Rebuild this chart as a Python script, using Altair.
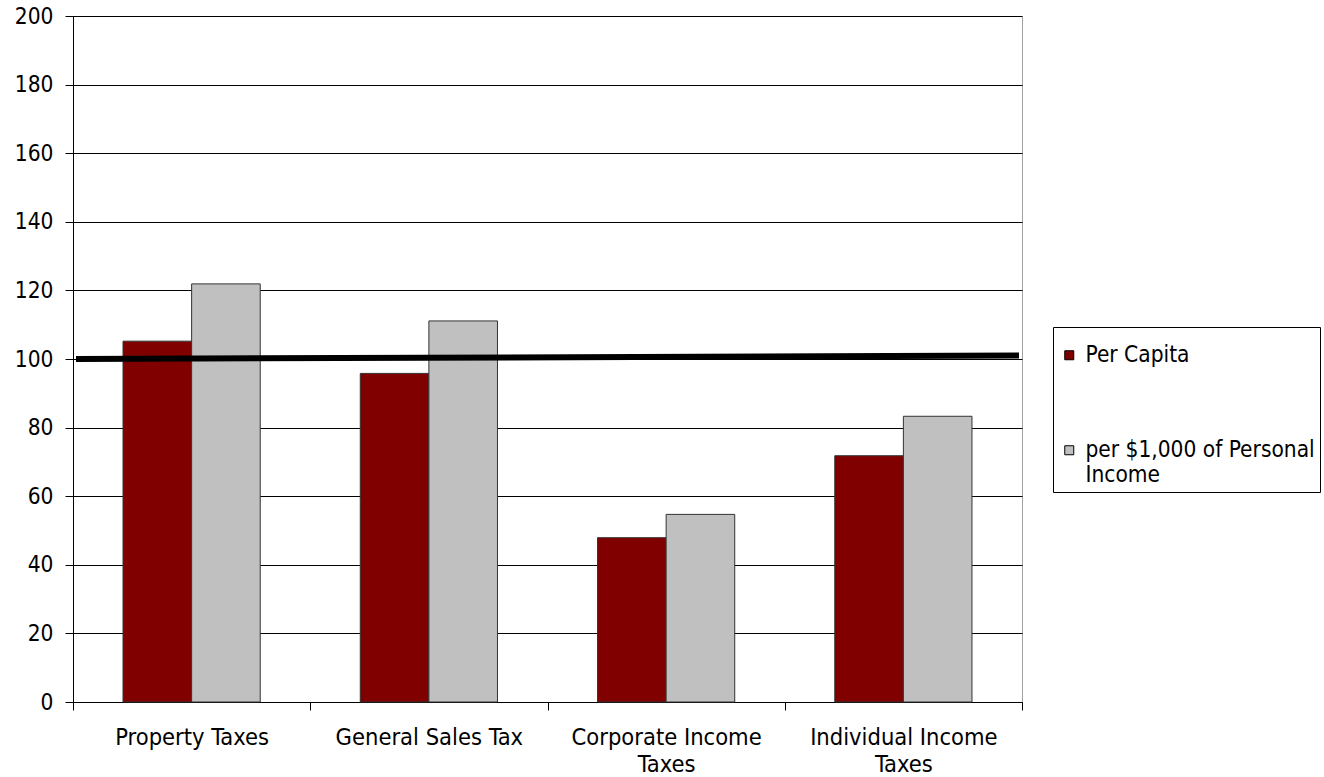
import altair as alt
import pandas as pd

categories = ["Property Taxes", "General Sales Tax", "Corporate Income Taxes", "Individual Income Taxes"]
series = ["Per Capita", "per $1,000 of Personal Income"]
per_capita = [105.2, 95.8, 47.9, 71.8]
per_income = [121.9, 111.1, 54.7, 83.3]
colors = ["#800000", "#C0C0C0"]
y_ticks = list(range(0, 201, 20))
ref_start = [100]
ref_end = [101]

rows = []
for c, a, b in zip(categories, per_capita, per_income):
    rows.append({"category": c, "series": series[0], "value": a})
    rows.append({"category": c, "series": series[1], "value": b})
df = pd.DataFrame(rows)
ref = pd.DataFrame({"start": ref_start, "end": ref_end})

FONT = "DejaVu Sans Condensed, Liberation Sans, sans-serif"

bars = alt.Chart(df).mark_bar(stroke="#333333", strokeWidth=1).encode(
    x=alt.X(
        "category:N",
        sort=categories,
        scale=alt.Scale(paddingInner=0, paddingOuter=0),
        axis=alt.Axis(
            title=None,
            labelAngle=0,
            tickBand="extent",
            tickSize=8,
            tickColor="black",
            domainColor="black",
            labelColor="black",
            labelFontSize=23.5,
            labelPadding=15,
            labelLineHeight=27,
            labelLimit=400,
            grid=False,
            labelExpr="length(datum.label) > 18 ? split(replace(datum.label, ' Taxes', '|Taxes'), '|') : datum.label",
        ),
    ),
    xOffset=alt.XOffset(
        "series:N", sort=series, scale=alt.Scale(paddingInner=0, paddingOuter=0.729)
    ),
    y=alt.Y(
        "value:Q",
        scale=alt.Scale(domain=[0, 200], nice=False),
        axis=alt.Axis(
            title=None,
            values=y_ticks,
            grid=True,
            gridColor="black",
            gridWidth=1,
            domainColor="black",
            tickColor="black",
            tickSize=8,
            labelPadding=12,
            labelFontSize=22.5,
            labelColor="black",
        ),
    ),
    color=alt.Color(
        "series:N",
        sort=series,
        scale=alt.Scale(domain=series, range=colors),
        legend=alt.Legend(
            title=" ",
            titleFontSize=6,
            titlePadding=6,
            orient="none",
            legendX=980,
            legendY=311,
            symbolType="square",
            symbolSize=81,
            symbolStrokeColor="black",
            symbolStrokeWidth=1,
            labelFontSize=22.5,
            labelColor="black",
            labelOffset=5,
            labelLimit=400,
            strokeColor="black",
            fillColor="white",
            padding=5,
            rowPadding=72,
            labelExpr="datum.label == 'per $1,000 of Personal Income' ? ['per $1,000 of Personal', 'Income'] : datum.label",
        ),
    ),
)

line = alt.Chart(ref).mark_rule(color="black", strokeWidth=6).encode(
    y=alt.Y("start:Q"),
    y2="end:Q",
    x=alt.value(3),
    x2=alt.value(946),
)

chart = (
    alt.layer(bars, line)
    .properties(
        width=949,
        height=686,
        autosize=alt.AutoSizeParams(type="none"),
        padding={"left": 73, "top": 16, "right": 302, "bottom": 75},
        background="white",
    )
    .configure(font=FONT)
    .configure_view(stroke="#a0a0a0", strokeWidth=1)
)

chart.save("out.html", embed_options={"renderer": "svg", "actions": False})
